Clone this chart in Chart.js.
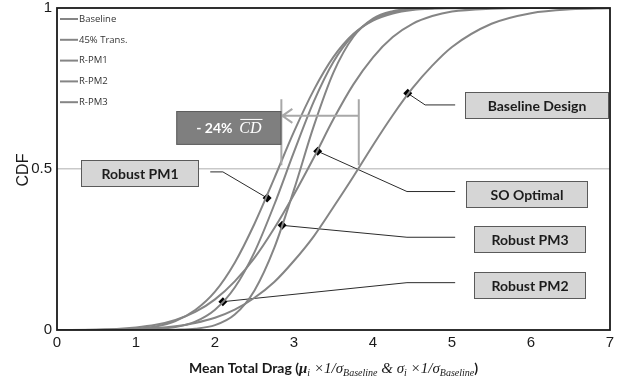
<!DOCTYPE html>
<html>
<head>
<meta charset="utf-8">
<script src="https://cdn.jsdelivr.net/npm/chart.js@4.4.1/dist/chart.umd.min.js"></script>
<style>
  html, body { margin: 0; padding: 0; background: #fff; }
  #wrap { width: 631px; height: 384px; position: relative; }
</style>
</head>
<body>
<div id="wrap"><canvas id="cdfChart"></canvas></div>
<script>
const dragX = [0, 0.5, 1, 1.25, 1.5, 1.75, 2, 2.25, 2.5, 2.75, 3, 3.25, 3.5, 3.75, 4, 4.25, 4.5, 4.75, 5, 5.5, 6, 6.5, 7];

// CDF of each design
const baselineCdf = [0, 0.001, 0.003, 0.006, 0.012, 0.022, 0.038, 0.063, 0.100, 0.149, 0.215, 0.291, 0.382, 0.476, 0.574, 0.667, 0.751, 0.821, 0.879, 0.951, 0.984, 0.996, 0.999];
const trans45Cdf  = [0, 0.001, 0.008, 0.016, 0.031, 0.056, 0.095, 0.151, 0.224, 0.316, 0.421, 0.535, 0.655, 0.762, 0.847, 0.910, 0.951, 0.975, 0.989, 0.998, 1, 1, 1];
const rpm1Cdf     = [0, 0, 0.004, 0.011, 0.028, 0.062, 0.119, 0.209, 0.330, 0.471, 0.616, 0.745, 0.848, 0.919, 0.961, 0.983, 0.994, 0.998, 0.999, 1, 1, 1, 1];
const rpm2Cdf     = [0, 0, 0.001, 0.003, 0.009, 0.026, 0.063, 0.132, 0.242, 0.389, 0.553, 0.709, 0.833, 0.916, 0.964, 0.987, 0.996, 0.999, 1, 1, 1, 1, 1];
const rpm3Cdf     = [0, 0, 0, 0, 0.001, 0.004, 0.015, 0.048, 0.123, 0.255, 0.436, 0.633, 0.800, 0.910, 0.967, 0.990, 0.998, 1, 1, 1, 1, 1, 1];
const seriesNames = ['Baseline', '45% Trans.', 'R-PM1', 'R-PM2', 'R-PM3'];

// highlighted design points and their callouts
const calloutNames = ['Baseline Design', 'SO Optimal', 'Robust PM1', 'Robust PM2', 'Robust PM3'];
const markerX = [4.44, 3.30, 2.66, 2.10, 2.85];
const markerY = [0.735, 0.555, 0.41, 0.088, 0.325];

// median drag of best robust design vs baseline (the -24% arrow)
const cdFrom = 3.82;
const cdTo = 2.84;
const cdLabel = '- 24%';

const xTicks = [0, 1, 2, 3, 4, 5, 6, 7];
const yTicks = [0, 0.5, 1];

// callout layout in data units: box [x0, x1, yCenter], elbow point, end of leader
const calloutLayout = [
  { box: [5.16, 6.97, 0.699], elbow: [4.66, 0.699], end: 5.04 },
  { box: [5.18, 6.71, 0.422], elbow: [4.43, 0.430], end: 5.04 },
  { box: [0.31, 1.79, 0.489], elbow: [2.10, 0.491], end: 1.94 },
  { box: [5.28, 6.68, 0.140], elbow: [4.43, 0.147], end: 5.04 },
  { box: [5.28, 6.68, 0.283], elbow: [4.43, 0.288], end: 5.04 }
];

const curveColor = '#858585';
const allCdfs = [baselineCdf, trans45Cdf, rpm1Cdf, rpm2Cdf, rpm3Cdf];

const lineSets = allCdfs.map((vals, i) => ({
  label: seriesNames[i],
  data: dragX.map((x, k) => ({ x: x, y: vals[k] })),
  borderColor: curveColor,
  borderWidth: 2,
  pointRadius: 0,
  cubicInterpolationMode: 'monotone',
  fill: false
}));

const markerSet = {
  label: 'markers',
  data: markerX.map((x, i) => ({ x: x, y: markerY[i] })),
  showLine: false,
  pointStyle: 'rectRot',
  pointRadius: 4.5,
  pointBackgroundColor: '#000',
  pointBorderColor: '#000',
  borderWidth: 0
};

function drawRich(ctx, parts, cx, baseY) {
  let total = 0;
  parts.forEach(p => { ctx.font = p.font; total += ctx.measureText(p.t).width; });
  let x = cx - total / 2;
  ctx.textAlign = 'left';
  ctx.textBaseline = 'alphabetic';
  parts.forEach(p => {
    ctx.font = p.font;
    ctx.fillText(p.t, x, baseY + (p.dy || 0));
    x += ctx.measureText(p.t).width;
  });
}

const decor = {
  id: 'decor',
  beforeDatasetsDraw(chart) {
    const { ctx, scales: { x, y } } = chart;
    ctx.save();
    // leader lines from markers to callout boxes
    ctx.strokeStyle = '#2b2b2b';
    ctx.lineWidth = 1;
    calloutLayout.forEach((c, i) => {
      ctx.beginPath();
      ctx.moveTo(x.getPixelForValue(markerX[i]), y.getPixelForValue(markerY[i]));
      ctx.lineTo(x.getPixelForValue(c.elbow[0]), y.getPixelForValue(c.elbow[1]));
      ctx.lineTo(x.getPixelForValue(c.end), y.getPixelForValue(c.elbow[1]));
      ctx.stroke();
    });
    ctx.restore();
  },
  afterDatasetsDraw(chart) {
    const { ctx, chartArea: a, scales: { x, y } } = chart;
    ctx.save();

    // frame around the plot
    ctx.strokeStyle = '#1a1a1a';
    ctx.lineWidth = 1.8;
    ctx.strokeRect(a.left, a.top, a.right - a.left, a.bottom - a.top);

    // legend in top-left corner
    ctx.font = '9.5px "Open Sans"';
    ctx.textBaseline = 'middle';
    ctx.textAlign = 'left';
    seriesNames.forEach((name, i) => {
      const ly = a.top + 11 + i * 20.8;
      ctx.strokeStyle = curveColor;
      ctx.lineWidth = 2;
      ctx.beginPath();
      ctx.moveTo(a.left + 3, ly);
      ctx.lineTo(a.left + 21, ly);
      ctx.stroke();
      ctx.fillStyle = '#333';
      ctx.fillText(name, a.left + 22, ly);
    });

    // -24% CD arrow
    const xa = x.getPixelForValue(cdFrom), xb = x.getPixelForValue(cdTo);
    const yTop = y.getPixelForValue(0.717), yBot = y.getPixelForValue(0.512), yArr = y.getPixelForValue(0.665);
    ctx.strokeStyle = '#a8a8a8';
    ctx.lineWidth = 2;
    ctx.beginPath();
    ctx.moveTo(xa, yTop); ctx.lineTo(xa, yBot);
    ctx.moveTo(xb, yTop); ctx.lineTo(xb, yBot);
    ctx.moveTo(xa, yArr); ctx.lineTo(xb + 1, yArr);
    ctx.moveTo(xb + 11, yArr - 7); ctx.lineTo(xb + 1, yArr); ctx.lineTo(xb + 11, yArr + 7);
    ctx.stroke();

    const bx0 = x.getPixelForValue(1.51), by0 = y.getPixelForValue(0.680), by1 = y.getPixelForValue(0.575);
    ctx.fillStyle = '#7f7f7f';
    ctx.fillRect(bx0, by0, xb - bx0, by1 - by0);
    ctx.strokeStyle = '#5e5e5e';
    ctx.lineWidth = 1;
    ctx.strokeRect(bx0 + 0.5, by0 + 0.5, xb - bx0 - 1, by1 - by0 - 1);
    ctx.fillStyle = '#fff';
    ctx.textBaseline = 'alphabetic';
    const midY = (by0 + by1) / 2 + 5;
    ctx.font = 'bold 14px Lato';
    const w1 = ctx.measureText(cdLabel + '  ').width;
    ctx.font = 'italic 16px "Liberation Serif"';
    const w2 = ctx.measureText('CD').width;
    let tx = (bx0 + xb) / 2 - (w1 + w2) / 2;
    ctx.font = 'bold 14px Lato';
    ctx.fillText(cdLabel, tx, midY);
    tx += w1;
    ctx.font = 'italic 16px "Liberation Serif"';
    ctx.fillText('CD', tx, midY);
    ctx.strokeStyle = '#fff';
    ctx.lineWidth = 1;
    ctx.beginPath();
    ctx.moveTo(tx + 1, midY - 13.5); ctx.lineTo(tx + w2 + 1, midY - 13.5);
    ctx.stroke();

    // callout boxes
    calloutLayout.forEach((c, i) => {
      const x0 = Math.round(x.getPixelForValue(c.box[0])) + 0.5;
      const x1 = Math.round(x.getPixelForValue(c.box[1])) + 0.5;
      const yc = y.getPixelForValue(c.box[2]);
      const y0 = Math.round(yc - 13) + 0.5;
      ctx.fillStyle = '#d6d6d6';
      ctx.fillRect(x0, y0, x1 - x0, 26);
      ctx.strokeStyle = '#5a5a5a';
      ctx.lineWidth = 1;
      ctx.strokeRect(x0, y0, x1 - x0, 26);
      ctx.fillStyle = '#1c1c1c';
      ctx.font = 'bold 14px Lato';
      ctx.textAlign = 'center';
      ctx.textBaseline = 'middle';
      ctx.fillText(calloutNames[i], (x0 + x1) / 2, y0 + 13.5);
    });

    // axis titles
    ctx.fillStyle = '#1a1a1a';
    ctx.save();
    ctx.translate(24, (a.top + a.bottom) / 2 + 1);
    ctx.rotate(-Math.PI / 2);
    ctx.font = '16px "Liberation Sans"';
    ctx.textAlign = 'center';
    ctx.textBaseline = 'middle';
    ctx.fillText('CDF', 0, 0);
    ctx.restore();

    const sb = 'bold 14px Lato';
    const si = 'italic 15px "Liberation Serif"';
    const sib = 'italic bold 15px "Liberation Serif"';
    const ss = 'italic 10px "Liberation Serif"';
    drawRich(ctx, [
      { t: 'Mean Total Drag (', font: sb },
      { t: 'μ', font: sib },
      { t: 'i', font: ss, dy: 3 },
      { t: ' ×', font: si },
      { t: '1/', font: si },
      { t: 'σ', font: si },
      { t: 'Baseline', font: ss, dy: 3 },
      { t: ' & ', font: si },
      { t: 'σ', font: si },
      { t: 'i', font: ss, dy: 3 },
      { t: ' ×', font: si },
      { t: '1/', font: si },
      { t: 'σ', font: si },
      { t: 'Baseline', font: ss, dy: 3 },
      { t: ')', font: sb }
    ], (a.left + a.right) / 2, 373);

    ctx.restore();
  }
};

new Chart(document.getElementById('cdfChart'), {
  type: 'line',
  data: { datasets: [...lineSets, markerSet] },
  options: {
    responsive: true,
    maintainAspectRatio: false,
    animation: false,
    layout: { padding: { top: 8, right: 21, left: 0, bottom: 0 } },
    plugins: { legend: { display: false }, tooltip: { enabled: false } },
    scales: {
      x: {
        type: 'linear',
        min: 0,
        max: 7,
        afterFit: s => { s.height = 54; s.paddingLeft = 0; s.paddingRight = 0; },
        afterBuildTicks: s => { s.ticks = xTicks.map(v => ({ value: v })); },
        grid: { display: false, drawTicks: false },
        border: { display: false },
        ticks: { font: { family: 'Liberation Sans', size: 15 }, color: '#1a1a1a', padding: 4 }
      },
      y: {
        min: 0,
        max: 1,
        afterFit: s => { s.width = 57; s.paddingTop = 0; s.paddingBottom = 0; },
        afterBuildTicks: s => { s.ticks = yTicks.map(v => ({ value: v })); },
        grid: {
          drawTicks: false,
          lineWidth: 1.5,
          color: c => (c.tick && c.tick.value === 0.5 ? '#c9c9c9' : 'rgba(0,0,0,0)')
        },
        border: { display: false },
        ticks: {
          font: { family: 'Liberation Sans', size: 15 },
          color: '#1a1a1a',
          padding: 5,
          callback: v => String(v)
        }
      }
    }
  },
  plugins: [decor]
});
</script>
</body>
</html>
